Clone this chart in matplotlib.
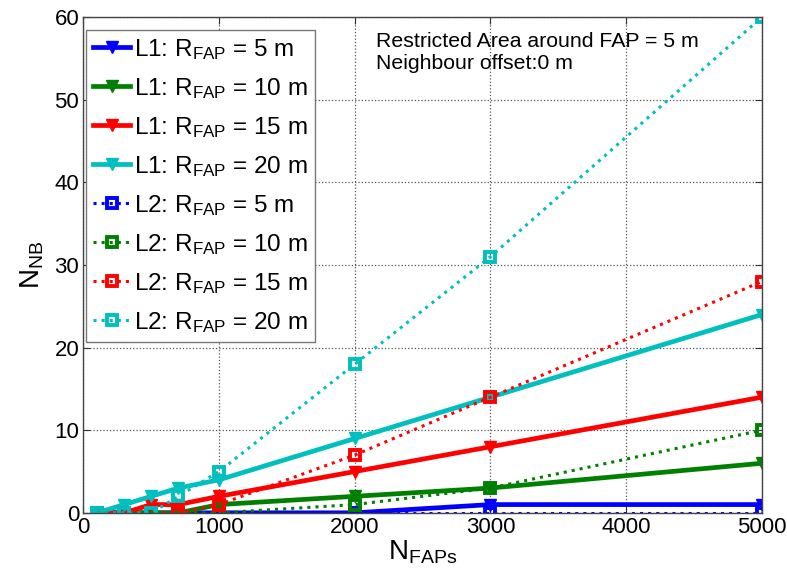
import matplotlib
matplotlib.use("Agg")
import matplotlib.pyplot as plt

plt.rcParams['font.family'] = ['Liberation Sans', 'DejaVu Sans']
plt.rcParams['mathtext.fontset'] = 'custom'
plt.rcParams['mathtext.rm'] = 'Liberation Sans'
plt.rcParams['mathtext.it'] = 'Liberation Sans'
plt.rcParams['mathtext.default'] = 'regular'

# Number of FAPs deployed
n_faps = [100, 300, 500, 700, 1000, 2000, 3000, 5000]

# Neighbour counts, scheme L1
l1_r5 = [0, 0, 0, 0, 0, 0, 1, 1]
l1_r10 = [0, 0, 0, 0, 1, 2, 3, 6]
l1_r15 = [0, 0, 1, 1, 2, 5, 8, 14]
l1_r20 = [0, 1, 2, 3, 4, 9, 14, 24]

# Neighbour counts, scheme L2
l2_r5 = [0, 0, 0, 0, 0, 0, 0, 0]
l2_r10 = [0, 0, 0, 0, 0, 1, 3, 10]
l2_r15 = [0, 0, 0, 0, 1, 7, 14, 28]
l2_r20 = [0, 0, 0, 2, 5, 18, 31, 60]

radii = [5, 10, 15, 20]
colors = ['#0000ff', '#008000', '#ff0000', '#00bfbf']

fig = plt.figure(figsize=(7.87, 5.73), dpi=100)
ax = fig.add_axes([0.106, 0.105, 0.862, 0.865])

for r, c, ys in zip(radii, colors, [l1_r5, l1_r10, l1_r15, l1_r20]):
    ax.plot(n_faps, ys, '-', color=c, lw=3.4, marker='v', ms=9,
            mfc=c, mec=c, label=f'L1: $R_{{FAP}}$ = {r} m')
for r, c, ys in zip(radii, colors, [l2_r5, l2_r10, l2_r15, l2_r20]):
    ax.plot(n_faps, ys, ':', color=c, lw=2.2, marker='s', ms=7.5,
            mfc='none', mec=c, mew=2.8, label=f'L2: $R_{{FAP}}$ = {r} m')

ax.set_xlim(0, 5000)
ax.set_ylim(0, 60)
ax.set_xticks([0, 1000, 2000, 3000, 4000, 5000])
ax.set_yticks([0, 10, 20, 30, 40, 50, 60])
ax.grid(True, ls=':', color='#555555', lw=0.9)
ax.tick_params(direction='in', top=True, right=True, labelsize=16,
               length=5, color='#333333', pad=3)
for s in ax.spines.values():
    s.set_color('#444444')
    s.set_linewidth(1.0)

ax.set_xlabel('$N_{FAPs}$', fontsize=20, labelpad=0)
ax.set_ylabel('$N_{NB}$', fontsize=20, labelpad=6)

ax.text(0.432, 0.97, 'Restricted Area around FAP = 5 m\nNeighbour offset:0 m',
        transform=ax.transAxes, ha='left', va='top', fontsize=15.3,
        linespacing=1.2)

leg = ax.legend(loc='upper left', bbox_to_anchor=(0.004, 0.975),
                borderaxespad=0, fontsize=17.5, numpoints=1, handlelength=1.5,
                handletextpad=0.15, labelspacing=0.58, borderpad=0.3,
                fancybox=False, framealpha=1, edgecolor='#777777')
leg.get_frame().set_linewidth(1.0)

fig.savefig('out.png', dpi=100)
